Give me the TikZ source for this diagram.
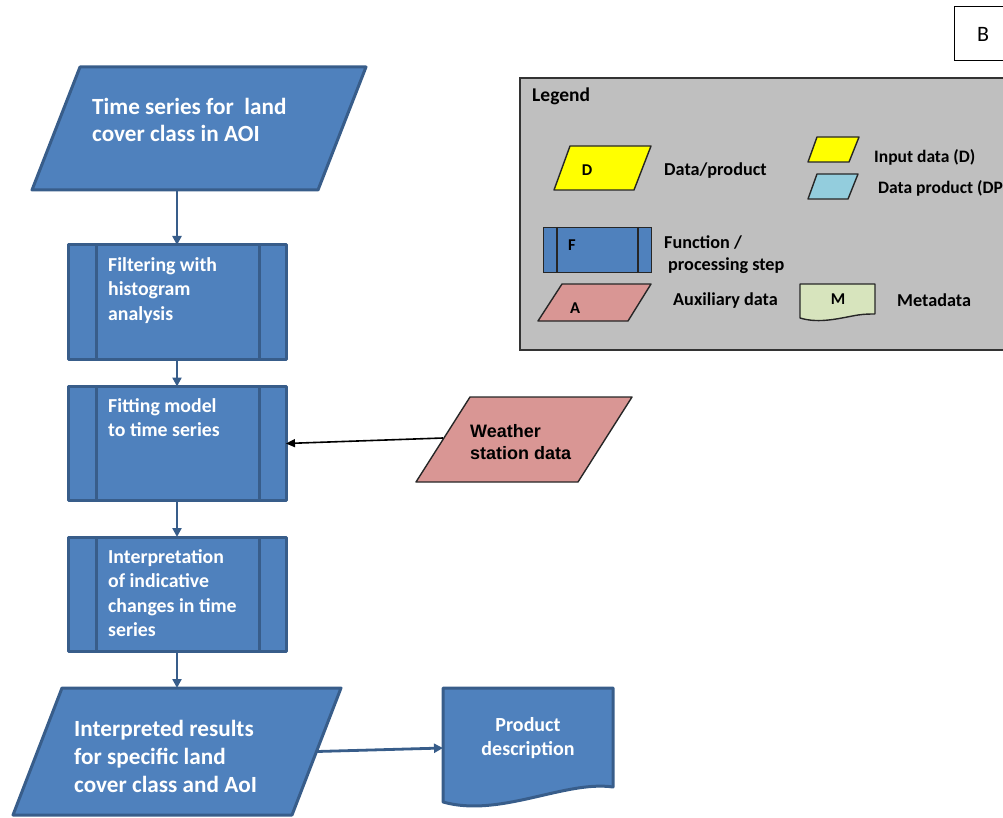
\documentclass[tikz,border=0pt]{standalone}
\usepackage{fontspec}
\setmainfont{Carlito}
\newfontfamily\arialf{Liberation Sans}
\usetikzlibrary{arrows.meta,calc}
\definecolor{fblue}{HTML}{4F81BD}
\definecolor{dblue}{HTML}{385D8A}
\definecolor{fpink}{HTML}{D99694}
\definecolor{fgray}{HTML}{BFBFBF}
\definecolor{fgreen}{HTML}{D7E4BD}
\definecolor{flblue}{HTML}{93CDDD}
\definecolor{fyellow}{HTML}{FFFF00}
\begin{document}
\begin{tikzpicture}[x=1pt,y=-1pt,
  bluebox/.style={draw=dblue, fill=fblue, line width=3pt, line join=round},
  frame/.style={inner sep=0pt, outer sep=0pt, minimum width=#1},
  procbox/.style={bluebox, inner sep=0pt, outer sep=0pt, minimum width=218pt, minimum height=114pt},
  wtext/.style={text=white, font=\bfseries\fontsize{19.8}{24.5}\selectfont, align=left, anchor=north west, inner sep=0pt},
  bigtext/.style={text=white, font=\bfseries\fontsize{23.2}{28}\selectfont, align=left, anchor=north west, inner sep=0pt},
  flow/.style={draw=dblue, line width=2.8pt, -{Triangle[length=9pt,width=9pt]}},
  legline/.style={draw=black!85, line width=1.4pt, line join=round},
  legtext/.style={font=\bfseries\fontsize{18.2}{21}\selectfont, anchor=west, inner sep=0pt},
  smalltext/.style={font=\bfseries\fontsize{17.5}{20}\selectfont, anchor=west, inner sep=0pt},
  letter/.style={font=\bfseries\fontsize{16.5}{19}\selectfont, inner sep=0pt}
]
\useasboundingbox (0,0) rectangle (1003,818);
\clip (0,0) rectangle (1003,818);

% ---------- B box ----------
\node[draw=black, line width=1.4pt, minimum width=60pt, minimum height=54pt, anchor=north west, inner sep=0pt] (bb) at (954,6) {};
\node[font=\fontsize{22}{26}\selectfont, inner sep=0pt] (btext) at (983,34) {B};

% ---------- Legend ----------
\node[draw=black!80, fill=fgray, line width=1.6pt, minimum width=495pt, minimum height=272pt, anchor=north west, inner sep=0pt] (leg) at (519,77) {};
\node[font=\bfseries\fontsize{19.5}{22}\selectfont, anchor=west, inner sep=0pt] (legt) at (532,96) {Legend};

\path[legline, fill=fyellow] (570,146) -- (651,146) -- (634,190) -- (554,190) -- cycle;
\node[letter] (ld) at (587,170) {D};
\node[legtext] (ldt) at (664,171) {Data/product};

\path[legline, fill=fyellow] (817,137) -- (859,137) -- (849,162) -- (808,162) -- cycle;
\node[smalltext] (lin) at (874,157) {Input data (D)};
\path[legline, fill=flblue] (817,174) -- (858,174) -- (848,199) -- (808,199) -- cycle;
\node[smalltext] (ldp) at (878,188) {Data product (DP)};

\node[draw=black!85, fill=fblue, line width=1.4pt, minimum width=108pt, minimum height=45pt, anchor=north west, inner sep=0pt] (lf) at (543,227) {};
\draw[legline] (557,227) -- (557,272);
\draw[legline] (638,227) -- (638,272);
\node[letter] (lft) at (572,245) {F};
\node[legtext] (lfa) at (664,243) {Function /};
\node[legtext] (lfb) at (668,266) {processing step};

\path[legline, fill=fpink] (562,284) -- (651,284) -- (628,321) -- (538,321) -- cycle;
\node[letter] (la) at (575,308) {A};
\node[legtext] (lat) at (673,301) {Auxiliary data};

\path[legline, fill=fgreen] (875,314) -- (875,284) -- (800,284) -- (800,318) .. controls (820,324) and (840,318) .. (858,315) .. controls (865,314) and (870,314) .. (875,314);
\node[letter] (lm) at (838,299) {M};
\node[legtext] (lmt) at (897,300) {Metadata};

% ---------- Flow ----------
\node[frame=334pt, minimum height=123pt] (ts) at (199,128.5) {};
\path[bluebox] ($(ts.north west)+(48,0)$) -- (ts.north east) -- ($(ts.south east)+(-48,0)$) -- (ts.south west) -- cycle;
\node[bigtext, font=\bfseries\fontsize{23.2}{27.5}\selectfont] (tst) at (92,98) {Time series for\ \ land\\cover class in AOI};

\node[procbox] (f1) at (177,302) {};
\node[procbox] (f2) at (177,443.5) {};
\node[procbox] (f3) at (177,594) {};
\foreach \b in {f1,f2,f3}{
  \draw[dblue, line width=3pt] ($(\b.north west)+(28,0)$) -- ($(\b.south west)+(28,0)$);
  \draw[dblue, line width=3pt] ($(\b.north east)+(-27,0)$) -- ($(\b.south east)+(-27,0)$);
}
\node[wtext] (f1t) at (108,257) {Filtering with\\histogram\\analysis};
\node[wtext] (f2t) at (108,398) {Fitting model\\to time series};
\node[wtext] (f3t) at (108,549) {Interpretation\\of indicative\\changes in time\\series};

\node[frame=328pt, minimum height=127pt] (ir) at (177,751.5) {};
\path[bluebox] ($(ir.north west)+(49,0)$) -- (ir.north east) -- ($(ir.south east)+(-49,0)$) -- (ir.south west) -- cycle;
\node[bigtext] (irt) at (74,720) {Interpreted results\\for specific land\\cover class and AoI};

\node[frame=170pt, minimum height=114pt] (pd) at (528,745) {};
\path[bluebox] (pd.south west) -- (pd.north west) -- (pd.north east) -- ($(pd.south east)+(0,-15)$) .. controls (565,780) and (500,818) .. (pd.south west) -- cycle;
\node[wtext, font=\bfseries\fontsize{20}{24.5}\selectfont, align=center, anchor=north] (pdt) at (528,717) {Product\\description};

\node[frame=216pt, minimum height=85pt] (ws) at (524,439.5) {};
\path[legline, fill=fpink] ($(ws.north west)+(54,0)$) -- (ws.north east) -- ($(ws.south east)+(-54,0)$) -- (ws.south west) -- cycle;
\node[font=\arialf\bfseries\fontsize{18}{22}\selectfont, align=left, anchor=north west, inner sep=0pt] (wst) at (470,424) {Weather\\station data};

% connectors
\draw[flow] (ts.south -| f1.north) -- (f1.north);
\draw[flow] (f1.south) -- (f2.north);
\draw[flow] (f2.south) -- (f3.north);
\draw[flow] (f3.south) -- (f3.south |- ir.north);
\draw[flow] ($(ir.east)+(-24,0)$) -- ($(pd.west)+(0,3)$);
\draw[black, line width=1.6pt, -{Triangle[length=9pt,width=8pt]}] ($(ws.west)+(27,-1.5)$) -- (f2.east);
\end{tikzpicture}
\end{document}
